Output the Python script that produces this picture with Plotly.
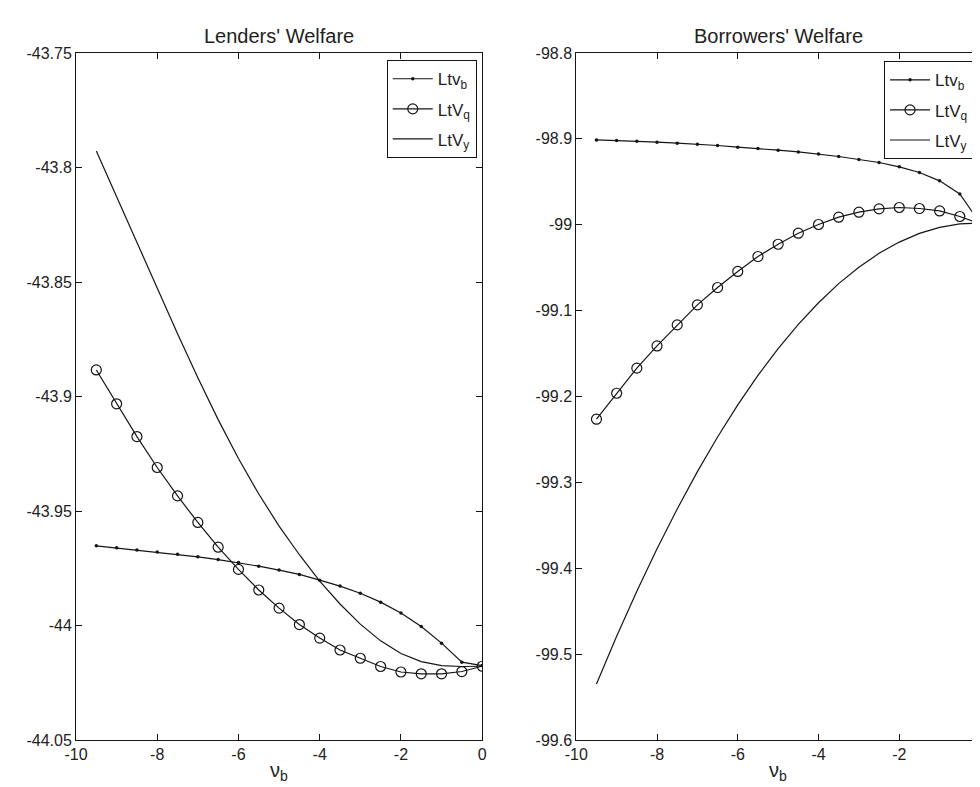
import plotly.graph_objects as go

# ---- data ----
nu_b = [-9.5, -9.0, -8.5, -8.0, -7.5, -7.0, -6.5, -6.0, -5.5, -5.0,
        -4.5, -4.0, -3.5, -3.0, -2.5, -2.0, -1.5, -1.0, -0.5, 0.0]

lend_ltv_b = [-43.9652, -43.9661, -43.9670, -43.9679, -43.9689, -43.9700, -43.9712,
              -43.9725, -43.9741, -43.9758, -43.9777, -43.9802, -43.9828, -43.9859,
              -43.9898, -43.9945, -44.0004, -44.0077, -44.0160, -44.0175]
lend_ltv_q = [-43.8884, -43.9032, -43.9175, -43.9310, -43.9434, -43.9550, -43.9658,
              -43.9755, -43.9845, -43.9924, -43.9996, -44.0055, -44.0107, -44.0143,
              -44.0179, -44.0203, -44.0211, -44.0211, -44.0201, -44.0178]
lend_ltv_y = [-43.7928, -43.8128, -43.8328, -43.8528, -43.8726, -43.8918, -43.9101,
              -43.9271, -43.9426, -43.9566, -43.9691, -43.9806, -43.9906, -43.9994,
              -44.0067, -44.0122, -44.0158, -44.0175, -44.0179, -44.0178]

borr_ltv_b = [-98.9012, -98.9019, -98.9027, -98.9039, -98.9050, -98.9062, -98.9077,
              -98.9097, -98.9112, -98.9132, -98.9152, -98.9175, -98.9205, -98.9240,
              -98.9275, -98.9326, -98.9392, -98.9489, -98.9641, -98.9980]
borr_ltv_q = [-99.2264, -99.1962, -99.1670, -99.1411, -99.1166, -99.0933, -99.0731,
              -99.0544, -99.0370, -99.0227, -99.0098, -98.9997, -98.9912, -98.9854,
              -98.9815, -98.9799, -98.9811, -98.9839, -98.9904, -98.9990]
borr_ltv_y = [-99.5347, -99.4792, -99.4267, -99.3773, -99.3309, -99.2875, -99.2471,
              -99.2098, -99.1755, -99.1442, -99.1160, -99.0908, -99.0686, -99.0494,
              -99.0333, -99.0202, -99.0101, -99.0030, -98.9990, -98.9980]

x_ticks = [-10, -8, -6, -4, -2, 0]
x_labels = ["-10", "-8", "-6", "-4", "-2", "0"]
lend_ticks = [-44.05, -44.0, -43.95, -43.9, -43.85, -43.8, -43.75]
lend_labels = ["-44.05", "-44", "-43.95", "-43.9", "-43.85", "-43.8", "-43.75"]
borr_ticks = [-99.6, -99.5, -99.4, -99.3, -99.2, -99.1, -99.0, -98.9, -98.8]
borr_labels = ["-99.6", "-99.5", "-99.4", "-99.3", "-99.2", "-99.1", "-99", "-98.9", "-98.8"]

names = ["Ltv<sub>b</sub>", "LtV<sub>q</sub>", "LtV<sub>y</sub>"]
titles = ["Lenders' Welfare", "Borrowers' Welfare"]
xlabel = "\u03bd<sub>b</sub>"

INK = "#151515"
TXT = "#222222"
FONT = "Liberation Sans, Arial, sans-serif"
LW = 1.2

fig = go.Figure()

panels = [
    ("x", "y", "legend", "L", [lend_ltv_b, lend_ltv_q, lend_ltv_y]),
    ("x2", "y2", "legend2", "B", [borr_ltv_b, borr_ltv_q, borr_ltv_y]),
]
for xa, ya, lg, tag, series in panels:
    fig.add_trace(go.Scatter(x=nu_b, y=series[0], name=names[0], xaxis=xa, yaxis=ya,
                             legend=lg, legendgroup=tag + "b", mode="lines+markers",
                             line=dict(color=INK, width=LW),
                             marker=dict(symbol="circle", size=3.5, color=INK)))
    fig.add_trace(go.Scatter(x=nu_b, y=series[1], name=names[1], xaxis=xa, yaxis=ya,
                             legend=lg, legendgroup=tag + "q", mode="lines+markers",
                             line=dict(color=INK, width=LW),
                             marker=dict(symbol="circle-open", size=10, color=INK,
                                         line=dict(width=LW, color=INK))))
    fig.add_trace(go.Scatter(x=nu_b, y=series[2], name=names[2], xaxis=xa, yaxis=ya,
                             legend=lg, legendgroup=tag + "y", mode="lines",
                             line=dict(color=INK, width=LW)))

axis_common = dict(showline=True, linecolor=INK, linewidth=1, mirror="allticks",
                   ticks="inside", ticklen=6, tickcolor=INK, showgrid=False,
                   zeroline=False, tickfont=dict(family=FONT, size=16, color=TXT))

legend_common = dict(xanchor="right", yanchor="top", bgcolor="white",
                     bordercolor=INK, borderwidth=1, itemwidth=40,
                     tracegroupgap=5, font=dict(family=FONT, size=17, color=TXT))

fig.update_layout(
    width=980, height=787,
    margin=dict(l=68, r=3, t=45, b=55),
    paper_bgcolor="white", plot_bgcolor="white",
    font=dict(family=FONT, color=TXT),
    showlegend=True,
    xaxis=dict(domain=[0, 0.4493], range=[-10, 0], tickvals=x_ticks, ticktext=x_labels,
               anchor="y", **axis_common),
    yaxis=dict(domain=[0, 1], range=[-44.05, -43.75], tickvals=lend_ticks, ticktext=lend_labels,
               anchor="x", **axis_common),
    xaxis2=dict(domain=[0.5534, 1.0], range=[-10, 0], tickvals=x_ticks, ticktext=x_labels,
                anchor="y2", **axis_common),
    yaxis2=dict(domain=[0, 1], range=[-99.6, -98.8], tickvals=borr_ticks, ticktext=borr_labels,
                anchor="x2", **axis_common),
    legend=dict(x=0.4433, y=0.9895, **legend_common),
    legend2=dict(x=0.9934, y=0.988, **legend_common),
    annotations=[
        dict(text=titles[0], x=0.2247, y=1.0, xref="paper", yref="paper",
             xanchor="center", yanchor="bottom", yshift=4, showarrow=False,
             font=dict(family=FONT, size=20, color=TXT)),
        dict(text=titles[1], x=0.7767, y=1.0, xref="paper", yref="paper",
             xanchor="center", yanchor="bottom", yshift=4, showarrow=False,
             font=dict(family=FONT, size=20, color=TXT)),
        dict(text=xlabel, x=0.2247, y=0.0, xref="paper", yref="paper",
             xanchor="center", yanchor="top", yshift=-17, showarrow=False,
             font=dict(family=FONT, size=20, color=TXT)),
        dict(text=xlabel, x=0.7767, y=0.0, xref="paper", yref="paper",
             xanchor="center", yanchor="top", yshift=-17, showarrow=False,
             font=dict(family=FONT, size=20, color=TXT)),
    ],
)

fig.write_html("out.html")
